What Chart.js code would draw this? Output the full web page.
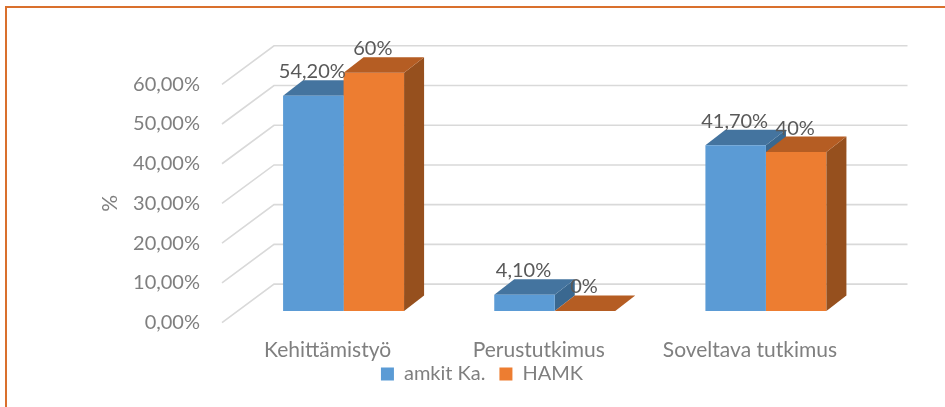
<!DOCTYPE html>
<html>
<head>
<meta charset="utf-8">
<script src="https://cdn.jsdelivr.net/npm/chart.js@4"></script>
<style>
html, body { margin: 0; padding: 0; background: #fff; }
#wrap { position: relative; width: 945px; height: 407px; overflow: hidden; }
#frame { position: absolute; left: 5px; top: 6px; width: 960px; height: 430px; border: 2px solid #d9702d; box-sizing: border-box; }
canvas { position: absolute; left: 0; top: 0; }
</style>
</head>
<body>
<div id="wrap">
<div id="frame"></div>
<canvas id="myChart" width="945" height="407"></canvas>
</div>
<script>
var categories = ['Kehittämistyö', 'Perustutkimus', 'Soveltava tutkimus'];
var amkitValues = [54.2, 4.1, 41.7];
var hamkValues = [60, 0, 40];
var amkitLabels = ['54,20%', '4,10%', '41,70%'];
var hamkLabels = ['60%', '0%', '40%'];
var seriesNames = ['amkit Ka.', 'HAMK'];
var gridValues = [0, 10, 20, 30, 40, 50, 60];

var fontName = 'Lato, "Open Sans", sans-serif';
var depthX = 20, depthY = 15.5;
//how far the back wall sits from the front of the floor
var wallX = 52, wallY = 38.5;

//top and side colours for the fake 3d, by dataset
var topColors = ['#44749f', '#b55d23'];
var sideColors = ['#3a6890', '#96501e'];

//side and top of one dataset's bars
function drawFaces(ctx, meta, index) {
	for (var i = 0; i < meta.data.length; i++) {
		var p = meta.data[i].getProps(['x', 'y', 'base', 'width'], true);
		var l = p.x - p.width / 2;
		var r = p.x + p.width / 2;
		ctx.fillStyle = sideColors[index];
		ctx.beginPath();
		ctx.moveTo(r, p.y);
		ctx.lineTo(r + depthX, p.y - depthY);
		ctx.lineTo(r + depthX, p.base - depthY);
		ctx.lineTo(r, p.base);
		ctx.closePath();
		ctx.fill();
		ctx.fillStyle = topColors[index];
		ctx.beginPath();
		ctx.moveTo(l, p.y);
		ctx.lineTo(l + depthX, p.y - depthY);
		ctx.lineTo(r + depthX, p.y - depthY);
		ctx.lineTo(r, p.y);
		ctx.closePath();
		ctx.fill();
	}
}

var fake3d = {
	id: 'fake3d',
	beforeDatasetsDraw: function(chart) {
		var ctx = chart.ctx;
		var y = chart.scales.y;
		var left = chart.chartArea.left - 16;
		var right = chart.chartArea.right - 16;
		ctx.save();
		ctx.strokeStyle = '#d9d9d9';
		ctx.lineWidth = 1.6;
		for (var i = 0; i < gridValues.length; i++) {
			var py = y.getPixelForValue(gridValues[i]);
			ctx.beginPath();
			ctx.moveTo(left, py);
			ctx.lineTo(left + wallX, py - wallY);
			ctx.lineTo(right + wallX, py - wallY);
			ctx.stroke();
		}
		//blue faces go under the orange bars
		drawFaces(ctx, chart.getDatasetMeta(0), 0);
		ctx.restore();
	},
	afterDatasetDraw: function(chart, args) {
		if (args.index !== 1) return;
		chart.ctx.save();
		drawFaces(chart.ctx, args.meta, 1);
		chart.ctx.restore();
	},
	afterDatasetsDraw: function(chart) {
		var ctx = chart.ctx;
		var texts = [amkitLabels, hamkLabels];
		ctx.save();
		ctx.font = '20px ' + fontName;
		ctx.fillStyle = '#595959';
		ctx.textAlign = 'center';
		ctx.textBaseline = 'middle';
		for (var d = 0; d < texts.length; d++) {
			var meta = chart.getDatasetMeta(d);
			for (var i = 0; i < meta.data.length; i++) {
				var p = meta.data[i].getProps(['x', 'y'], true);
				ctx.fillText(texts[d][i], p.x - 1, p.y - 24);
			}
		}
		ctx.restore();
	}
};

var ctx = document.getElementById('myChart').getContext('2d');

var myChart = new Chart(ctx, {
	type: 'bar',
	data: {
		labels: categories,
		datasets: [
			{
				label: seriesNames[0],
				data: amkitValues,
				backgroundColor: '#5b9bd5',
				yAxisID: 'yBars',
				clip: false
			},
			{
				label: seriesNames[1],
				data: hamkValues,
				backgroundColor: '#ed7d31',
				yAxisID: 'yBars',
				clip: false
			}
		]
	},
	plugins: [fake3d],
	options: {
		responsive: false,
		animation: false,
		layout: { padding: { left: 92.5, right: 73.5, top: 84.3, bottom: 13 } },
		plugins: {
			tooltip: { enabled: false },
			legend: {
				position: 'bottom',
				labels: {
					boxWidth: 13,
					boxHeight: 13,
					padding: 14,
					color: '#7f7f7f',
					font: { family: fontName, size: 20 }
				}
			}
		},
		datasets: { bar: { barPercentage: 1, categoryPercentage: 0.573 } },
		scales: {
			x: {
				grid: { display: false },
				border: { display: false },
				afterFit: function(scale) { scale.height = 27.4; },
				ticks: {
					color: '#7f7f7f',
					labelOffset: -16,
					//mirror stops the labels being clipped at the short axis box
					mirror: true,
					padding: -40,
					maxRotation: 0,
					font: { family: fontName, size: 21 }
				}
			},
			//visible axis, sits on the front edge of the floor
			y: {
				position: 'left',
				min: 0,
				max: 60,
				grid: { display: false },
				border: { display: false },
				afterFit: function(scale) { scale.width = 145.5; },
				ticks: {
					color: '#7f7f7f',
					padding: 30,
					stepSize: 10,
					font: { family: fontName, size: 20 },
					callback: function(v) { return v.toFixed(2).replace('.', ',') + '%'; }
				},
				title: {
					display: true,
					text: '%',
					color: '#7f7f7f',
					padding: { top: 5, bottom: 0 },
					font: { family: fontName, size: 21 }
				}
			},
			//bars stand a little further back on the floor
			yBars: {
				display: false,
				min: -2.93,
				max: 57.07
			}
		}
	}
});
</script>
</body>
</html>
